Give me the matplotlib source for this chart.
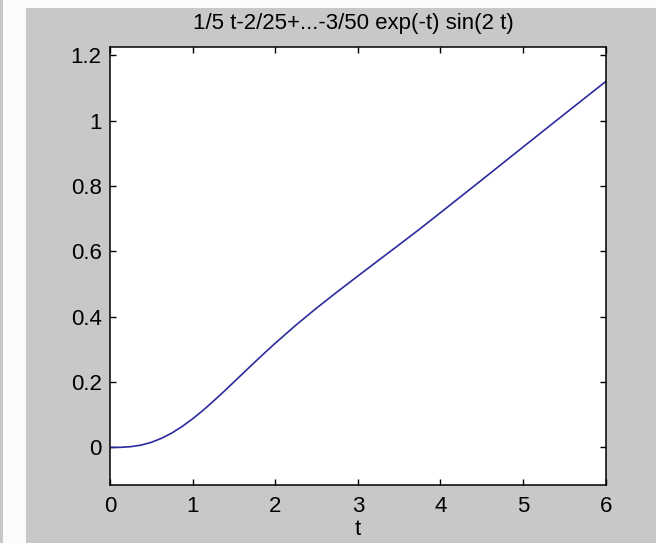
import matplotlib
matplotlib.use("Agg")
import matplotlib.pyplot as plt
from matplotlib.patches import Rectangle

# Response curve y(t), sampled along t
t_values = [0.0, 0.125, 0.25, 0.375, 0.5, 0.625, 0.75, 0.875, 1.0, 1.125, 1.25,
            1.375, 1.5, 1.625, 1.75, 1.875, 2.0, 2.25, 2.5, 2.75, 3.0, 3.25,
            3.5, 3.75, 4.0, 4.5, 5.0, 5.5, 6.0]
y_values = [0.0, 0.0003, 0.0023, 0.0070, 0.0156, 0.0281, 0.0444, 0.0645, 0.0877,
            0.1133, 0.1413, 0.1703, 0.2004, 0.2305, 0.2606, 0.2901, 0.3191,
            0.3744, 0.4266, 0.4763, 0.5247, 0.5728, 0.6206, 0.6690, 0.7187,
            0.8189, 0.9198, 1.0202, 1.1202]

x_ticks = [0, 1, 2, 3, 4, 5, 6]
y_ticks = [0, 0.2, 0.4, 0.6, 0.8, 1.0, 1.2]
y_tick_labels = ["0", "0.2", "0.4", "0.6", "0.8", "1", "1.2"]
title_text = "1/5 t-2/25+...-3/50 exp(-t) sin(2 t)"
x_label = "t"

plt.rcParams['font.family'] = ['Liberation Sans', 'DejaVu Sans']

W, H = 656, 543
fig = plt.figure(figsize=(W / 100, H / 100), dpi=100, facecolor="#fbfbfb")

# window background panels
fig.patches.append(Rectangle((0, 0), 3 / W, 1, transform=fig.transFigure,
                             facecolor="#c8c8c8", edgecolor="none", zorder=-10))
fig.patches.append(Rectangle((26 / W, 0), 1 - 26 / W, (H - 8) / H,
                             transform=fig.transFigure,
                             facecolor="#c8c8c8", edgecolor="none", zorder=-10))

ax = fig.add_axes([110 / W, 1 - 485 / H, 495.7 / W, 437.7 / H])
ax.set_zorder(5)
ax.set_facecolor("white")
ax.plot(t_values, y_values, color="#2b2b9e", linewidth=1.2)

ax.set_xlim(0, 6)
ax.set_ylim(-0.115, 1.225)
ax.set_xticks(x_ticks)
ax.set_xticklabels([str(v) for v in x_ticks])
ax.set_yticks(y_ticks)
ax.set_yticklabels(y_tick_labels)

ax.tick_params(direction="in", length=4, width=1, top=True, right=True,
               labelsize=16, colors="black")
ax.tick_params(axis="x", pad=8)
ax.tick_params(axis="y", pad=6)
for s in ax.spines.values():
    s.set_linewidth(1.1)
    s.set_color("black")

ax.set_title(title_text, fontsize=16, pad=13.5, x=0.491, color="black")
ax.set_xlabel(x_label, fontsize=16, labelpad=1.5, color="black")

fig.savefig("out.png", dpi=100, facecolor=fig.get_facecolor())
